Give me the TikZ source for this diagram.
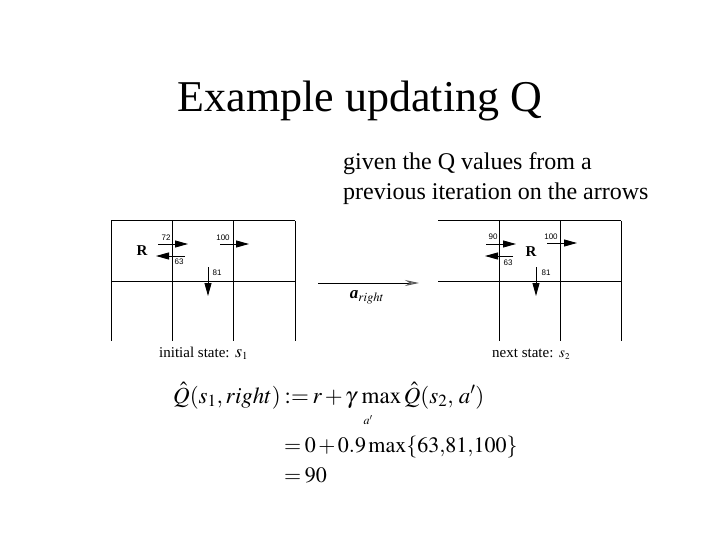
\documentclass[tikz,border=0pt]{standalone}
\usepackage{mathptmx}
\usepackage{fontspec}
\setmainfont{Liberation Serif}
\newfontfamily\smallsans{Liberation Sans}
\usetikzlibrary{arrows.meta}
\newcommand\tighteqspacing{\medmuskip=2mu\relax\thickmuskip=3mu\relax}
\begin{document}
\begin{tikzpicture}[x=1pt,y=-1pt,
  gridline/.style={line width=1pt},
  qarrow/.style={line width=0.9pt,-{Triangle[length=13pt,width=7pt]}},
  qlabel/.style={font=\smallsans\fontsize{8}{8}\selectfont,inner sep=0pt},
  rlabel/.style={font=\bfseries\fontsize{15}{15}\selectfont,inner sep=0pt},
  statelabel/.style={font=\fontsize{15}{15}\selectfont,inner sep=0pt,anchor=base west},
  eqline/.style={font=\fontsize{23}{28}\selectfont\tighteqspacing,inner sep=0pt,anchor=base west},
  actarrow/.style={line width=1pt,-{Stealth[length=14pt,width=6pt,fill=gray!70,color=gray!70!black]}}]
\useasboundingbox (0,0) rectangle (720,540);
% title
\node[font=\fontsize{44}{50}\selectfont,anchor=base,inner sep=0pt] (title) at (360,112) {Example updating Q};
\node[font=\fontsize{24}{30}\selectfont,anchor=base west,inner sep=0pt] (sub1) at (343,170) {given the Q values from a};
\node[font=\fontsize{24}{30}\selectfont,anchor=base west,inner sep=0pt] (sub2) at (343,200) {previous iteration on the arrows};
% left grid
\draw[gridline] (111,221) -- (295,221);
\draw[gridline] (111,281) -- (295,281);
\foreach \x in {111,172,233,295} \draw[gridline] (\x,221) -- (\x,341);
\node[rlabel] (R1) at (142,251) {R};
\coordinate (l72a) at (158,244); \coordinate (l72b) at (188,244);
\draw[qarrow] (l72a) -- (l72b);
\node[qlabel] (n72) at (166,238) {72};
\coordinate (l100a) at (220,244); \coordinate (l100b) at (249,244);
\draw[qarrow] (l100a) -- (l100b);
\node[qlabel] (n100) at (223,238) {100};
\coordinate (l63a) at (185,256); \coordinate (l63b) at (156,256);
\draw[qarrow] (l63a) -- (l63b);
\node[qlabel] (n63) at (179,262) {63};
\coordinate (l81a) at (208,267); \coordinate (l81b) at (208,296);
\draw[qarrow] (l81a) -- (l81b);
\node[qlabel] (n81) at (217,273) {81};
\node[statelabel] (init) at (159,357) {initial state:};
\node[inner sep=0pt,anchor=base west,font=\fontsize{18}{18}\selectfont] (s1) at (235,357) {$s_{\scriptscriptstyle 1}$};
% action arrow
\coordinate (acta) at (318,283); \coordinate (actb) at (419,283);
\draw[actarrow] (acta) -- (actb);
\node[inner sep=0pt,font=\fontsize{17}{17}\selectfont] (aright) at (367,297) {{\bfseries\itshape a}$_{right}$};
% right grid
\draw[gridline] (438,221) -- (621,221);
\draw[gridline] (438,281) -- (621,281);
\foreach \x in {499,560,621} \draw[gridline] (\x,221) -- (\x,341);
\node[rlabel] (R2) at (531,252) {R};
\coordinate (r90a) at (486,244); \coordinate (r90b) at (516,244);
\draw[qarrow] (r90a) -- (r90b);
\node[qlabel] (n90) at (493,237) {90};
\coordinate (r100a) at (547,243); \coordinate (r100b) at (577,243);
\draw[qarrow] (r100a) -- (r100b);
\node[qlabel] (n100b) at (551,237) {100};
\coordinate (r63a) at (513,256); \coordinate (r63b) at (485,256);
\draw[qarrow] (r63a) -- (r63b);
\node[qlabel] (n63b) at (508,263) {63};
\coordinate (r81a) at (536,267); \coordinate (r81b) at (536,296);
\draw[qarrow] (r81a) -- (r81b);
\node[qlabel] (n81b) at (546,273) {81};
\node[statelabel] (next) at (492,357) {next state:};
\node[inner sep=0pt,anchor=base west,font=\fontsize{15}{15}\selectfont] (s2) at (559,357) {$s_{\scriptscriptstyle 2}$};
% equations
\node[eqline] (eq1) at (173,403) {$\hat{Q}(s_1,right)\mathrel{:=}r+\gamma\,\mathop{\mathrm{max}}\hat{Q}(s_2,\,a')$};
\node[inner sep=0pt,font=\fontsize{12}{12}\selectfont] (aprime) at (368,420) {$a'$};
\node[eqline,font=\fontsize{22}{28}\selectfont\tighteqspacing] (eq2) at (284,452) {$=0+0.9\,\mathrm{max}\{63{,}81{,}100\}$};
\node[eqline,font=\fontsize{22}{28}\selectfont\tighteqspacing] (eq3) at (284,482) {$=90$};
\end{tikzpicture}
\end{document}
